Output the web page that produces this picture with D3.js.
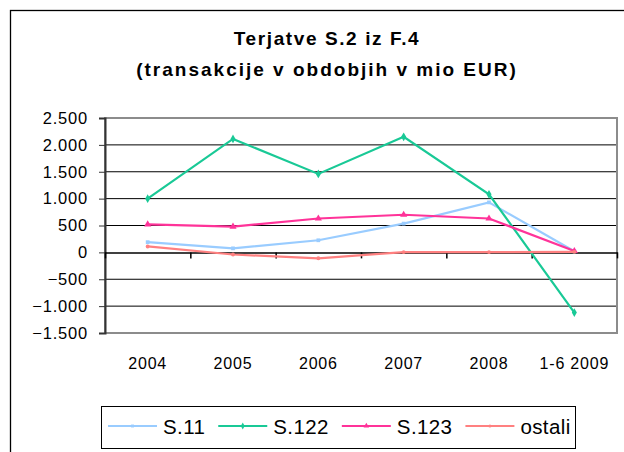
<!DOCTYPE html>
<html>
<head>
<meta charset="utf-8">
<script src="https://cdn.jsdelivr.net/npm/d3@7"></script>
<style>
  body { margin: 0; background: #fff; }
  text { font-family: "Liberation Sans", Arial, sans-serif; fill: #000; }
</style>
</head>
<body>
<script>
const categories = ["2004", "2005", "2006", "2007", "2008", "1-6 2009"];
const s11  = [190, 75, 225, 535, 930, 20];
const s122 = [1000, 2110, 1460, 2150, 1080, -1120];
const s123 = [520, 480, 630, 700, 630, 25];
const ostali = [110, -40, -110, 5, 5, 10];
const yTicks = [-1500, -1000, -500, 0, 500, 1000, 1500, 2000, 2500];
const titleLines = ["Terjatve S.2 iz F.4", "(transakcije v obdobjih v mio EUR)"];

const series = [
  {name: "S.11", values: s11, color: "#99CCFF", marker: "square"},
  {name: "S.122", values: s122, color: "#19C996", marker: "diamond"},
  {name: "S.123", values: s123, color: "#FF3399", marker: "triangle"},
  {name: "ostali", values: ostali, color: "#FF8080", marker: "circle"}
];

const w = 624, h = 452;
const plotLeft = 105, plotRight = 617, plotTop = 118, plotBottom = 333;

const svg = d3.select("body").append("svg")
  .attr("width", w)
  .attr("height", h);

// outer frame (runs off the right and bottom edges)
svg.append("rect")
  .attr("x", 10.5).attr("y", 10.5)
  .attr("width", 700).attr("height", 600)
  .attr("fill", "none").attr("stroke", "#000").attr("stroke-width", 1.3);

svg.selectAll(".title")
  .data(titleLines)
  .enter().append("text")
  .attr("class", "title")
  .attr("x", 327)
  .attr("y", (d, i) => 45 + i * 31)
  .attr("text-anchor", "middle")
  .style("font-size", "19px")
  .style("font-weight", "bold")
  .style("letter-spacing", (d, i) => i == 0 ? "1.6px" : "2px")
  .text(d => d);

const xScale = d3.scaleBand().domain(categories).range([plotLeft, plotRight]);
const xEdge = d3.scaleLinear().domain([0, categories.length]).range([plotLeft, plotRight]);
const yScale = d3.scaleLinear().domain([-1500, 2500]).range([plotBottom, plotTop]);

// gridlines
svg.append("g")
  .selectAll("line")
  .data(yTicks.filter(v => v !== 0 && v !== -1500 && v !== 2500))
  .enter().append("line")
  .attr("x1", plotLeft).attr("x2", plotRight)
  .attr("y1", d => yScale(d)).attr("y2", d => yScale(d))
  .attr("stroke", "#000").attr("stroke-width", 1);

// plot area border
svg.append("rect")
  .attr("x", plotLeft).attr("y", plotTop)
  .attr("width", plotRight - plotLeft).attr("height", plotBottom - plotTop)
  .attr("fill", "none").attr("stroke", "#8c8c8c").attr("stroke-width", 2);

// y axis
const yAxis = d3.axisLeft(yScale)
  .tickValues(yTicks)
  .tickSize(6)
  .tickPadding(11)
  .tickFormat(d => d3.format(",")(d).replace(/,/g, "."));

const gy = svg.append("g")
  .attr("transform", "translate(" + plotLeft + ",0)")
  .call(yAxis);
gy.select(".domain").attr("stroke", "#333").attr("stroke-width", 2);
gy.selectAll(".tick line").attr("stroke", "#333");
gy.selectAll("text")
  .style("font-size", "16.5px")
  .style("letter-spacing", "0.8px")
  .attr("font-family", null);

// zero axis with category boundary ticks
const gz = svg.append("g")
  .attr("transform", "translate(0," + yScale(0) + ")")
  .call(d3.axisBottom(xEdge).tickValues(d3.range(categories.length + 1)).tickSize(6).tickSizeOuter(0).tickFormat(""));
gz.select(".domain").attr("stroke", "#000").attr("stroke-width", 1.5);
gz.selectAll(".tick line").attr("stroke", "#000").attr("stroke-width", 1.5);

// category labels
const gx = svg.append("g")
  .attr("transform", "translate(0," + plotBottom + ")")
  .call(d3.axisBottom(xScale).tickSize(0).tickPadding(25));
gx.select(".domain").remove();
gx.selectAll("text")
  .style("font-size", "16px")
  .style("letter-spacing", "0.8px")
  .attr("font-family", null);

function markerPath(type, size) {
  const sym = {square: d3.symbolSquare, diamond: d3.symbolDiamond, triangle: d3.symbolTriangle, circle: d3.symbolCircle}[type];
  return d3.symbol().type(sym).size(size)();
}
const markerSize = {square: 14, diamond: 22, triangle: 22, circle: 12};

const line = d3.line()
  .x((d, i) => xScale(categories[i]) + xScale.bandwidth() / 2)
  .y(d => yScale(d));

const gs = svg.selectAll(".series")
  .data(series)
  .enter().append("g")
  .attr("class", "series");

gs.append("path")
  .attr("d", d => line(d.values))
  .attr("fill", "none")
  .attr("stroke", d => d.color)
  .attr("stroke-width", 2.2);

gs.each(function(s) {
  d3.select(this).selectAll("path.pt")
    .data(s.values)
    .enter().append("path")
    .attr("class", "pt")
    .attr("d", markerPath(s.marker, markerSize[s.marker]))
    .attr("transform", (d, i) => "translate(" + (xScale(categories[i]) + xScale.bandwidth() / 2) + "," + yScale(d) + ")")
    .attr("fill", s.color);
});

// legend
const lg = svg.append("g");
lg.append("rect")
  .attr("x", 101.5).attr("y", 406.5)
  .attr("width", 474).attr("height", 42)
  .attr("fill", "#fff").attr("stroke", "#000").attr("stroke-width", 1);

let lx = 108;
const ly = 426;
series.forEach(s => {
  lg.append("line")
    .attr("x1", lx).attr("x2", lx + 49)
    .attr("y1", ly).attr("y2", ly)
    .attr("stroke", s.color).attr("stroke-width", 2.2);
  lg.append("path")
    .attr("d", markerPath(s.marker, markerSize[s.marker] * 0.6))
    .attr("transform", "translate(" + (lx + 24.5) + "," + ly + ")")
    .attr("fill", s.color);
  const t = lg.append("text")
    .attr("x", lx + 55)
    .attr("y", ly + 7.5)
    .style("font-size", "20.5px")
    .style("letter-spacing", "0.4px")
    .text(s.name);
  lx = lx + 55 + t.node().getComputedTextLength() + 13;
});
</script>
</body>
</html>
